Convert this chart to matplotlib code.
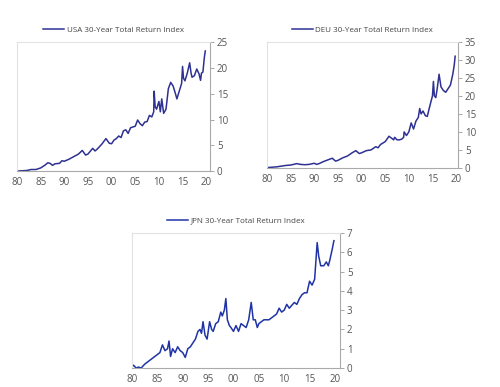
import matplotlib.pyplot as plt
from matplotlib.ticker import FuncFormatter, MultipleLocator

# USA 30-year total return index
usa_x = [1980, 1982, 1983, 1984, 1985, 1986, 1986.5, 1987, 1987.5, 1988, 1989, 1989.5,
         1990, 1991, 1992, 1993, 1993.8, 1994.5, 1995, 1996, 1996.5, 1997, 1998, 1998.8,
         1999.5, 2000, 2000.5, 2001, 2001.5, 2002, 2002.5, 2003, 2003.5, 2004, 2005,
         2005.5, 2006, 2006.5, 2007, 2007.5, 2008, 2008.5, 2008.9, 2009, 2009.2, 2009.5,
         2010, 2010.3, 2010.6, 2011, 2011.5, 2012, 2012.5, 2013, 2013.5, 2013.8, 2014.3,
         2014.8, 2015, 2015.2, 2015.5, 2016, 2016.5, 2016.8, 2017, 2017.5, 2018, 2018.5,
         2018.8, 2019, 2019.3, 2019.6, 2019.8]
usa_y = [0, 0.1, 0.3, 0.3, 0.6, 1.2, 1.6, 1.5, 1.1, 1.4, 1.5, 2.0,
         1.9, 2.3, 2.8, 3.3, 4.0, 3.1, 3.3, 4.4, 3.9, 4.3, 5.3, 6.3,
         5.4, 5.3, 6.0, 6.3, 6.8, 6.5, 7.8, 8.0, 7.3, 8.4, 8.7,
         9.9, 9.2, 8.8, 9.5, 9.6, 10.8, 10.5, 11.5, 15.5, 12.5, 12.0,
         13.5, 11.5, 14.0, 11.2, 12.0, 16.0, 17.2, 16.5, 15.0, 14.0, 15.5,
         17.0, 20.3, 18.0, 17.5, 19.0, 21.0, 19.0, 18.2, 18.5, 19.8, 18.8,
         17.6, 19.0, 19.2, 22.0, 23.3]

# DEU 30-year total return index
deu_x = [1980, 1982, 1983, 1984, 1985, 1986.3, 1987, 1988, 1989, 1990, 1990.5, 1991,
         1992, 1993, 1993.8, 1994.5, 1995, 1996, 1997, 1998, 1998.8, 1999.5, 2000,
         2001, 2002, 2003, 2003.5, 2004, 2005, 2005.8, 2006.3, 2006.8, 2007, 2007.5,
         2008, 2008.5, 2008.9, 2009, 2009.5, 2010, 2010.5, 2011, 2011.5, 2012, 2012.3,
         2012.6, 2013, 2013.5, 2013.9, 2014.5, 2015, 2015.2, 2015.4, 2015.7, 2016,
         2016.4, 2016.8, 2017.3, 2017.8, 2018.3, 2018.8, 2019.3, 2019.6, 2019.8]
deu_y = [0.1, 0.3, 0.5, 0.7, 0.8, 1.2, 1.0, 0.9, 1.0, 1.3, 1.0, 1.2,
         1.8, 2.3, 2.7, 1.9, 2.1, 2.8, 3.3, 4.2, 4.8, 4.0, 4.2,
         4.8, 5.0, 5.9, 5.6, 6.5, 7.3, 8.8, 8.3, 7.8, 8.5, 7.8,
         7.8, 8.0, 8.5, 10.0, 9.0, 10.0, 12.5, 10.8, 13.0, 14.0, 16.5,
         15.0, 15.8, 14.5, 14.3, 17.5, 20.0, 24.0, 20.0, 19.5, 22.0,
         26.0, 22.5, 21.5, 21.0, 22.0, 23.0, 26.0, 28.5, 31.0]

# JPN 30-year total return index
jpn_x = [1980, 1980.3, 1980.8, 1981.3, 1981.8, 1982.5, 1983, 1984, 1985, 1985.5, 1986,
         1986.5, 1987, 1987.3, 1987.6, 1988, 1988.5, 1989, 1989.5, 1990, 1990.5, 1991,
         1991.5, 1992, 1992.5, 1993, 1993.4, 1993.7, 1994, 1994.4, 1994.8, 1995.3,
         1995.7, 1996, 1996.5, 1997, 1997.5, 1997.8, 1998.2, 1998.5, 1998.8, 1999.2,
         1999.5, 2000, 2000.5, 2001, 2001.5, 2002, 2002.5, 2003, 2003.5, 2003.9, 2004.3,
         2004.7, 2005, 2006, 2007, 2008, 2008.5, 2009, 2009.5, 2010, 2010.5, 2011, 2012,
         2012.5, 2013, 2013.5, 2014, 2014.5, 2015, 2015.5, 2016, 2016.5, 2016.8, 2017.2,
         2017.8, 2018.3, 2018.7, 2019, 2019.5, 2019.8]
jpn_y = [0.05, 0.15, 0.0, 0.05, 0.0, 0.2, 0.3, 0.5, 0.7, 0.8, 1.2,
         0.9, 1.0, 1.4, 0.6, 1.0, 0.8, 1.1, 0.9, 0.8, 0.55, 1.0,
         1.1, 1.3, 1.5, 1.9, 2.0, 1.8, 2.4, 1.7, 1.5, 2.4,
         2.0, 1.9, 2.3, 2.4, 2.9, 2.7, 3.0, 3.6, 2.5, 2.2,
         2.1, 1.9, 2.2, 1.9, 2.3, 2.2, 2.1, 2.5, 3.4, 2.5, 2.5,
         2.1, 2.3, 2.5, 2.5, 2.7, 2.8, 3.1, 2.9, 3.0, 3.3, 3.1, 3.4,
         3.3, 3.6, 3.8, 3.9, 3.9, 4.5, 4.3, 4.6, 6.5, 5.8, 5.3,
         5.3, 5.5, 5.3, 5.6, 6.2, 6.6]

plt.rcParams['font.family'] = ['Open Sans', 'DejaVu Sans']

fig = plt.figure(figsize=(5, 3.87), dpi=100)

panels = [
    ([0.034, 0.558, 0.386, 0.333], usa_x, usa_y, 'USA 30-Year Total Return Index', 25, 5, 2020.8, '#2e3192'),
    ([0.534, 0.566, 0.382, 0.326], deu_x, deu_y, 'DEU 30-Year Total Return Index', 35, 5, 2020.4, '#2e3192'),
    ([0.264, 0.049, 0.416, 0.349], jpn_x, jpn_y, 'JPN 30-Year Total Return Index', 7, 1, 2021.0, '#1f33a6'),
]

for rect, xs, ys, label, ymax, ystep, xmax, color in panels:
    ax = fig.add_axes(rect)
    ax.plot(xs, ys, color=color, lw=1.1, label=label)
    ax.set_xlim(1980, xmax)
    ax.set_ylim(0, ymax)
    ax.xaxis.set_major_locator(MultipleLocator(5))
    ax.yaxis.set_major_locator(MultipleLocator(ystep))
    ax.xaxis.set_major_formatter(FuncFormatter(lambda v, p: f'{int(round(v)) % 100:02d}'))
    ax.yaxis.tick_right()
    ax.tick_params(axis='y', length=3, width=0.6, color='#999999', labelsize=7,
                   labelcolor='#555555', pad=2)
    ax.tick_params(axis='x', length=0, labelsize=7, labelcolor='#555555', pad=4)
    for s in ['top', 'left']:
        ax.spines[s].set_color('#e2e2e2')
        ax.spines[s].set_linewidth(0.8)
    for s in ['right', 'bottom']:
        ax.spines[s].set_color('#aaaaaa')
        ax.spines[s].set_linewidth(0.8)
    leg = ax.legend(loc='lower center', bbox_to_anchor=(0.5, 1.04), frameon=False,
                    fontsize=5.8, handlelength=2.6, handletextpad=0.3, borderaxespad=0)
    for t in leg.get_texts():
        t.set_color('#444444')

fig.savefig('out.png', dpi=100)
